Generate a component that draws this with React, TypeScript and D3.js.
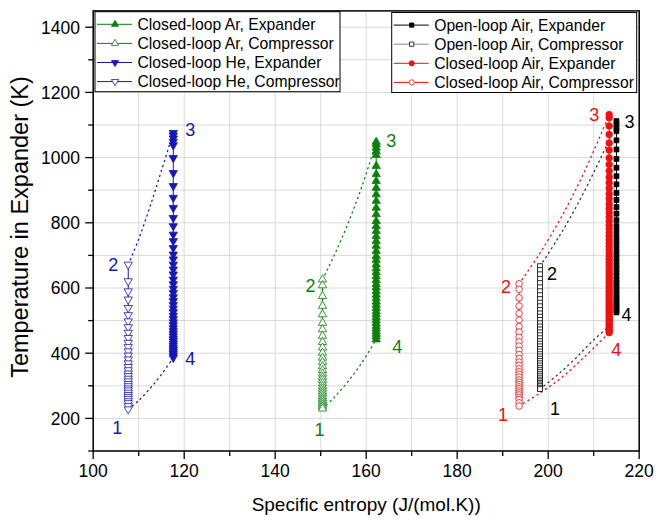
import React from "react";
import * as d3 from "d3";

const W = 656;
const H = 520;

// temperatures (K), top marker first
const heCompT = [672, 621, 590, 565, 539, 517, 498, 480, 463, 447, 432, 419, 406, 393, 381, 369, 358, 348, 338, 330, 322, 314, 306, 299, 292, 286, 279, 272, 266, 260, 253, 247, 238, 228];
const heExpT = [1076, 1068, 1059, 1049, 1038, 999, 953, 913, 877, 846, 815, 790, 764, 744, 723, 703, 688, 672, 657, 642, 626, 612, 598, 585, 572, 560, 548, 537, 526, 515, 505, 495, 486, 477, 468, 460, 452, 444, 437, 430, 423, 416, 410, 404, 398, 392, 386];
const arCompT = [626, 608, 575, 545, 519, 493, 473, 453, 434, 417, 401, 386, 373, 360, 348, 337, 327, 318, 308, 299, 291, 283, 276, 268, 261, 255, 248, 242, 236, 230];
const arExpT = [1048, 1040, 1030, 1019, 1008, 974, 949, 928, 907, 887, 867, 846, 826, 805, 790, 775, 759, 744, 729, 713, 698, 686, 672, 660, 648, 636, 624, 612, 601, 590, 579, 568, 558, 548, 538, 528, 519, 510, 501, 492, 483, 475, 467, 459, 451, 442];
const airCompT = [613, 596, 570, 545, 522, 502, 482, 465, 449, 435, 422, 409, 396, 384, 373, 363, 352, 343, 335, 327, 318, 311, 304, 297, 291, 284, 278, 272, 265, 258, 248, 238];
const airExpT = [1132, 1122, 1097, 1071, 1045, 1023, 999, 979, 959, 940, 923, 906, 889, 874, 858, 844, 831, 818, 805, 793, 782, 770, 759, 748, 737, 727, 717, 707, 697, 688, 679, 670, 661, 652, 644, 636, 628, 620, 612, 605, 598, 591, 584, 577, 570, 563, 557, 551, 545, 539, 533, 527, 521, 515, 509, 503, 497, 491, 485, 479, 474, 468, 463];
const openCompT = [667, 655, 642, 628, 615, 602, 590, 578, 566, 555, 544, 533, 522, 512, 502, 492, 482, 473, 464, 455, 446, 437, 429, 421, 413, 405, 397, 390, 383, 376, 369, 362, 355, 349, 343, 337, 331, 325, 319, 314, 309, 304, 299, 294, 290];
const openExpT = [1112, 1102, 1091, 1081, 1053, 1025, 996, 969, 943, 918, 892, 870, 848, 828, 808, 790, 775, 759, 745, 731, 718, 705, 693, 681, 669, 658, 647, 636, 626, 616, 606, 597, 588, 579, 570, 562, 554, 546, 538, 530, 525];

// entropy of each vertical process, J/(mol.K)
const heCompS = 107.7;
const heExpS = 117.6;
const arCompS = 150.4;
const arExpS = 162.2;
const airCompS = 193.6;
const airExpS = 213.4;
const openCompS = 198.2;
const openExpS = 215.0;

// dotted isobars [s, T]
const heHigh = [[107.7, 672], [110, 750], [112.5, 850], [115, 960], [117.6, 1076]];
const heLow = [[107.7, 228], [110, 255], [112.5, 292], [115, 335], [117.6, 386]];
const arHigh = [[150.4, 626], [153, 701], [156, 798], [159, 909], [162.2, 1048]];
const arLow = [[150.4, 230], [153, 265], [156, 313], [159, 370], [162.2, 442]];
const airHigh = [[193.6, 613], [198, 703], [203, 820], [208, 958], [213.4, 1132]];
const airLow = [[193.6, 238], [198, 276], [203, 326], [208, 389], [213.4, 463]];
const openHigh = [[198.2, 667], [202, 749], [206, 845], [210, 954], [213.6, 1060]];
const openLow = [[198.2, 290], [202, 333], [206, 384], [210, 441], [213.2, 480]];

const xTicks = [100, 120, 140, 160, 180, 200, 220];
const yTicks = [200, 400, 600, 800, 1000, 1200, 1400];

const GREEN = "#0b800b";
const BLUE = "#1616b8";
const RED = "#f01010";
const BLACK = "#000";

const x = d3.scaleLinear().domain([100, 220]).range([93.2, 639.2]);
const y = d3.scaleLinear().domain([100, 1450]).range([451, 10.9]);

const FONT = "'Liberation Sans', Arial, sans-serif";

const tri = d3.symbol(d3.symbolTriangle, 30)() as string;
const triSmall = d3.symbol(d3.symbolTriangle, 22)() as string;
const sq = d3.symbol(d3.symbolSquare, 24)() as string;
const sqSmall = d3.symbol(d3.symbolSquare, 18)() as string;
const circ = d3.symbol(d3.symbolCircle, 34)() as string;
const circSmall = d3.symbol(d3.symbolCircle, 22)() as string;

type Series = { name: string; s: number; T: number[]; color: string; line: string; shape: string; small: string; rot: number; filled: boolean };

const series: Series[] = [
  { name: "Closed-loop Ar, Expander", s: arExpS, T: arExpT, color: GREEN, line: GREEN, shape: tri, small: triSmall, rot: 0, filled: true },
  { name: "Closed-loop Ar, Compressor", s: arCompS, T: arCompT, color: GREEN, line: GREEN, shape: tri, small: triSmall, rot: 0, filled: false },
  { name: "Closed-loop He, Expander", s: heExpS, T: heExpT, color: BLUE, line: BLUE, shape: tri, small: triSmall, rot: 180, filled: true },
  { name: "Closed-loop He, Compressor", s: heCompS, T: heCompT, color: BLUE, line: BLUE, shape: tri, small: triSmall, rot: 180, filled: false },
  { name: "Open-loop Air, Expander", s: openExpS, T: openExpT, color: BLACK, line: BLACK, shape: sq, small: sqSmall, rot: 0, filled: true },
  { name: "Open-loop Air, Compressor", s: openCompS, T: openCompT, color: BLACK, line: "#888", shape: sq, small: sqSmall, rot: 0, filled: false },
  { name: "Closed-loop Air, Expander", s: airExpS, T: airExpT, color: RED, line: RED, shape: circ, small: circSmall, rot: 0, filled: true },
  { name: "Closed-loop Air, Compressor", s: airCompS, T: airCompT, color: RED, line: RED, shape: circ, small: circSmall, rot: 0, filled: false },
];

const isobars = [
  { pts: heHigh, color: BLUE }, { pts: heLow, color: BLUE },
  { pts: arHigh, color: GREEN }, { pts: arLow, color: GREEN },
  { pts: openHigh, color: "#333" }, { pts: openLow, color: "#333" },
  { pts: airHigh, color: RED }, { pts: airLow, color: RED },
];

// state-point labels, offset in px from the state point
const stateLabels: { s: number; T: number; t: string; dx: number; dy: number; color: string }[] = [
  { s: heCompS, T: heCompT[heCompT.length - 1], t: "1", dx: -11, dy: 18, color: BLUE },
  { s: heCompS, T: heCompT[0], t: "2", dx: -15, dy: 0, color: BLUE },
  { s: heExpS, T: heExpT[0], t: "3", dx: 17, dy: -3, color: BLUE },
  { s: heExpS, T: heExpT[heExpT.length - 1], t: "4", dx: 17, dy: 1, color: BLUE },
  { s: arCompS, T: arCompT[arCompT.length - 1], t: "1", dx: -3, dy: 21, color: GREEN },
  { s: arCompS, T: arCompT[0], t: "2", dx: -12, dy: 6, color: GREEN },
  { s: arExpS, T: arExpT[0], t: "3", dx: 15, dy: -1, color: GREEN },
  { s: arExpS, T: arExpT[arExpT.length - 1], t: "4", dx: 21, dy: 7, color: GREEN },
  { s: airCompS, T: airCompT[airCompT.length - 1], t: "1", dx: -16, dy: 9, color: RED },
  { s: airCompS, T: airCompT[0], t: "2", dx: -13, dy: 3, color: RED },
  { s: airExpS, T: airExpT[0], t: "3", dx: -15, dy: 0, color: RED },
  { s: airExpS, T: airExpT[airExpT.length - 1], t: "4", dx: 7, dy: 17, color: RED },
  { s: openCompS, T: openCompT[openCompT.length - 1], t: "1", dx: 15, dy: 19, color: BLACK },
  { s: openCompS, T: openCompT[0], t: "2", dx: 12, dy: 7, color: BLACK },
  { s: openExpS, T: openExpT[0], t: "3", dx: 13, dy: 0, color: BLACK },
  { s: openExpS, T: openExpT[openExpT.length - 1], t: "4", dx: 10, dy: 2, color: BLACK },
];

export default function App() {
  const [x0, x1] = x.range();
  const [y0, y1] = y.range();
  const gridX = d3.range(100, 221, 10);
  const gridY = d3.range(100, 1401, 100);
  const curve = d3.line<number[]>().x((d) => x(d[0])).y((d) => y(d[1])).curve(d3.curveCatmullRom);

  const legendL = series.filter((_, i) => i < 4);
  const legendR = series.filter((_, i) => i >= 4);

  const legend = (items: Series[], bx: number, by: number, bw: number) => (
    <g>
      <rect x={bx} y={by} width={bw} height={80} fill="#fff" stroke="#000" strokeWidth={1} />
      {items.map((d, i) => {
        const cy = by + 12.6 + i * 19.1;
        return (
          <g key={d.name}>
            <line x1={bx + 2} x2={bx + 37} y1={cy} y2={cy} stroke={d.line} strokeWidth={1} />
            <path d={d.small} transform={`translate(${bx + 20},${cy}) rotate(${d.rot})`} fill={d.filled ? d.color : "#fff"} stroke={d.color} strokeWidth={0.8} />
            <text x={bx + 42.5} y={cy} dy="0.36em" fontSize={15.7} fontFamily={FONT} fill="#000">{d.name}</text>
          </g>
        );
      })}
    </g>
  );

  return (
    <svg width={W} height={H} style={{ position: "absolute", left: 0, top: 0, background: "#fff" }}>
      {/* grid */}
      {gridX.map((v) => (
        <line key={"gx" + v} x1={x(v)} x2={x(v)} y1={y0} y2={y1} stroke="#d9d9d9" strokeWidth={1} />
      ))}
      {gridY.map((v) => (
        <line key={"gy" + v} x1={x0} x2={x1} y1={y(v)} y2={y(v)} stroke="#d9d9d9" strokeWidth={1} />
      ))}

      {/* isobars */}
      {isobars.map((c, i) => (
        <path key={"iso" + i} d={curve(c.pts) as string} fill="none" stroke={c.color} strokeWidth={1.3} strokeDasharray="1.2,4" strokeLinecap="round" />
      ))}

      {/* processes */}
      {series.map((d) => (
        <g key={d.name}>
          <line x1={x(d.s)} x2={x(d.s)} y1={y(d.T[0])} y2={y(d.T[d.T.length - 1])} stroke={d.line} strokeWidth={1} />
          {d.T.map((t, i) => (
            <path key={i} d={d.shape} transform={`translate(${x(d.s)},${y(t)}) rotate(${d.rot})`} fill={d.filled ? d.color : "#fff"} stroke={d.color} strokeWidth={0.8} />
          ))}
        </g>
      ))}

      {stateLabels.map((l, i) => (
        <text key={"st" + i} x={x(l.s) + l.dx} y={y(l.T) + l.dy} dy="0.36em" textAnchor="middle" fontSize={18} fontFamily={FONT} fill={l.color}>{l.t}</text>
      ))}

      {legend(legendL, 95, 11.7, 245)}
      {legend(legendR, 391.7, 12.5, 245)}

      {/* frame */}
      <rect x={x0} y={y1} width={x1 - x0} height={y0 - y1} fill="none" stroke="#000" strokeWidth={1.5} />

      {/* x axis ticks */}
      {gridX.map((v) => (
        <line key={"tx" + v} x1={x(v)} x2={x(v)} y1={y0} y2={y0 + (v % 20 === 0 ? 8 : 5)} stroke="#000" strokeWidth={1.3} />
      ))}
      {xTicks.map((v) => (
        <text key={"lx" + v} x={x(v)} y={477} textAnchor="middle" fontSize={17.5} fontFamily={FONT}>{v}</text>
      ))}
      {/* y axis ticks */}
      {gridY.map((v) => (
        <line key={"ty" + v} x1={x0 - (v % 200 === 0 ? 8 : 5)} x2={x0} y1={y(v)} y2={y(v)} stroke="#000" strokeWidth={1.3} />
      ))}
      {yTicks.map((v) => (
        <text key={"ly" + v} x={80} y={y(v)} dy="0.36em" textAnchor="end" fontSize={17.5} fontFamily={FONT}>{v}</text>
      ))}

      <text x={(x0 + x1) / 2} y={511} textAnchor="middle" fontSize={19} fontFamily={FONT}>Specific entropy (J/(mol.K))</text>
      <text transform={`translate(28,${227}) rotate(-90)`} textAnchor="middle" fontSize={23.5} fontFamily={FONT}>Temperature in Expander (K)</text>
    </svg>
  );
}
